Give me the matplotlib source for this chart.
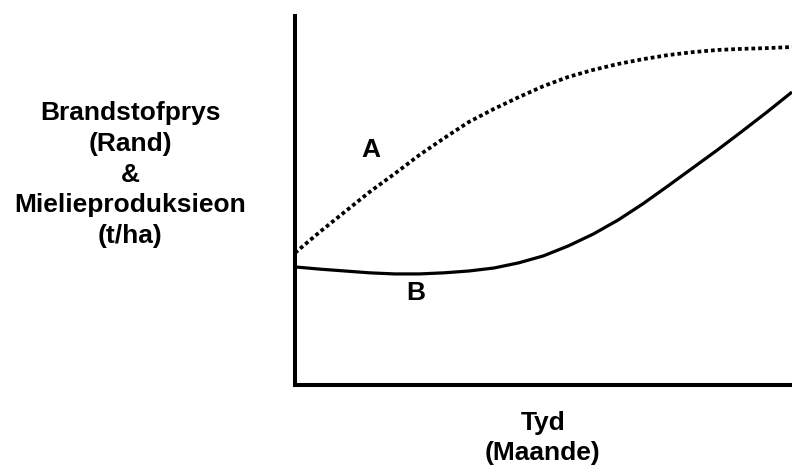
import matplotlib
matplotlib.use("Agg")
import matplotlib.pyplot as plt
import numpy as np

# Time in months (x) and the two curves (arbitrary units)
months = [0, 0.5, 1, 1.5, 2, 2.5, 3, 3.5, 4, 4.5, 5, 5.5, 6, 6.5, 7, 7.5, 8, 8.5, 9, 9.5, 10]
curve_a = [3.58, 4.15, 4.69, 5.23, 5.72, 6.23, 6.69, 7.13, 7.48, 7.80, 8.10, 8.35, 8.54, 8.70,
           8.83, 8.94, 9.02, 9.08, 9.11, 9.13, 9.16]
curve_b = [3.20, 3.14, 3.09, 3.04, 3.01, 3.01, 3.04, 3.09, 3.17, 3.31, 3.50, 3.77, 4.09, 4.47,
           4.91, 5.39, 5.88, 6.37, 6.88, 7.40, 7.94]

ylabel_lines = ["Brandstofprys", "(Rand)", "&", "Mielieproduksieon", "(t/ha)"]
xlabel_lines = ["Tyd", "(Maande)"]
label_a = "A"
label_b = "B"

W, H = 792, 466
fig = plt.figure(figsize=(W / 100, H / 100), dpi=100)
plt.rcParams['font.family'] = ['Liberation Sans', 'DejaVu Sans']

ax = fig.add_axes([295 / W, (H - 385) / H, (792 - 295) / W, (385 - 16) / H])
ax.set_xlim(0, 10)
ax.set_ylim(0, 10)
for s in ["top", "right"]:
    ax.spines[s].set_visible(False)
for s in ["left", "bottom"]:
    ax.spines[s].set_linewidth(2.9)
    ax.spines[s].set_color("black")
ax.set_xticks([])
ax.set_yticks([])

ax.plot(months, curve_a, color="black", lw=2.7, linestyle=(0, (1, 0.8)),
        dash_capstyle="butt", clip_on=False)
ax.plot(months, curve_b, color="black", lw=2.3, solid_capstyle="butt", clip_on=False)

fs = 19
def ftext(px, py, s):
    fig.text(px / W, 1 - py / H, s, ha="center", va="baseline",
             fontsize=fs, fontweight="bold")

for s, by in zip(ylabel_lines, [120, 151, 182, 212, 243]):
    ftext(130, by, s)
for s, by in zip(xlabel_lines, [430, 460]):
    ftext(543, by, s)
ftext(371, 157, label_a)
ftext(416, 300, label_b)

fig.savefig("out.png", dpi=100)
